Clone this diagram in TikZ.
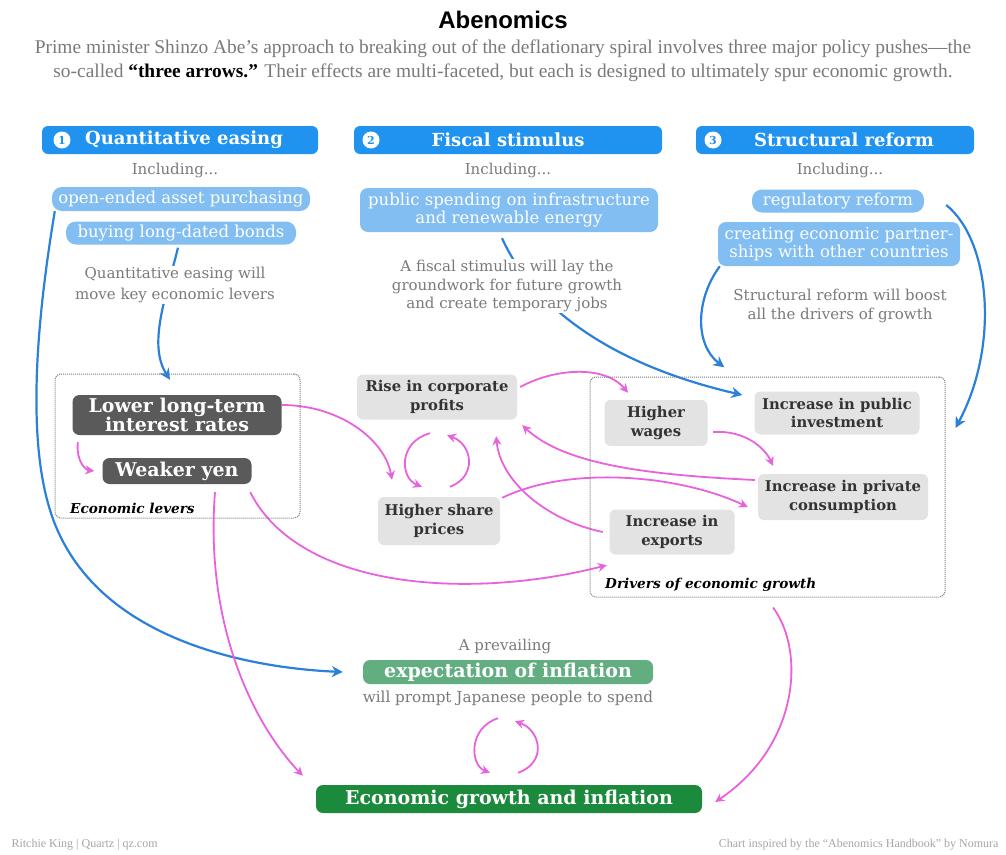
\documentclass[tikz,border=0pt]{standalone}
\usepackage{fontspec}
\setmainfont{DejaVu Serif}
\newfontfamily\titlefont{Liberation Sans}
\newfontfamily\subfont[Ligatures=TeX]{Liberation Serif}
\usetikzlibrary{arrows.meta}
\pgfdeclarelayer{back}
\pgfdeclarelayer{bg}
\pgfsetlayers{back,bg,main}
\definecolor{hdrblue}{HTML}{2093F0}
\definecolor{lblue}{HTML}{82BEF2}
\definecolor{arrblue}{HTML}{2B80DA}
\definecolor{pinkarr}{HTML}{E862DE}
\definecolor{dkgray}{HTML}{5A5A5A}
\definecolor{ltgray}{HTML}{E3E3E3}
\definecolor{txtgray}{HTML}{7A7A7A}
\definecolor{expgreen}{HTML}{62AE80}
\definecolor{grgreen}{HTML}{1C8A3C}
\definecolor{boxline}{HTML}{7A7A7A}
\begin{document}
\begin{tikzpicture}[x=1pt,y=-1pt,
  hdr/.style={fill=hdrblue, rounded corners=6pt, minimum height=28pt, inner sep=0pt, text=white,
     font=\bfseries\fontsize{18}{20}\selectfont},
  num/.style={circle, fill=white, minimum size=17pt, inner sep=0pt, text=hdrblue,
     font=\bfseries\fontsize{11}{11}\selectfont},
  incl/.style={text=txtgray, font=\fontsize{15}{17}\selectfont},
  lb/.style={fill=lblue, rounded corners=10pt, inner sep=0pt, text=white, align=center,
     font=\fontsize{16.5}{18}\selectfont},
  note/.style={fill=white, inner sep=1pt, text=txtgray, align=center},
  dk/.style={fill=dkgray, rounded corners=7pt, inner sep=0pt, text=white, align=center,
     font=\bfseries\fontsize{19}{18}\selectfont},
  lg/.style={fill=ltgray, rounded corners=6pt, inner sep=0pt, text=black!80, align=center,
     font=\bfseries\fontsize{14.8}{18.5}\selectfont},
  group/.style={draw=boxline, densely dotted, line width=1pt, rounded corners=6pt, inner sep=0pt},
  grplabel/.style={anchor=west, inner sep=0pt, font=\bfseries\itshape\fontsize{13.6}{15}\selectfont},
  parr/.style={draw=pinkarr, line width=1.8pt, -{Stealth[length=9pt,width=9pt]}},
  barr/.style={draw=arrblue, line width=2.2pt, -{Stealth[length=11pt,width=11pt]}}
]
\useasboundingbox (0,0) rectangle (1006,854);
\begin{pgfonlayer}{back}
\fill[white] (0,0) rectangle (1006,854);
\end{pgfonlayer}

% title
\node[font=\titlefont\bfseries\fontsize{24}{28}\selectfont] (title) at (503,20) {Abenomics};
\node[font=\subfont\fontsize{19.4}{24}\selectfont, text=txtgray, align=center] (sub) at (503,61)
  {Prime minister Shinzo Abe’s approach to breaking out of the deflationary spiral involves three major policy pushes—the\\
   so-called {\color{black}\textbf{“three arrows.”}} Their effects are multi-faceted, but each is designed to ultimately spur economic growth.};

% headers
\node[hdr, minimum width=276pt] (h1) at (180,140) {\hspace*{8pt}Quantitative easing};
\node[num] (n1) at (62,140) {1};
\node[hdr, minimum width=308pt] (h2) at (508,140) {Fiscal stimulus};
\node[num] (n2) at (371,140) {2};
\node[hdr, minimum width=278pt] (h3) at (835,140) {\hspace*{18pt}Structural reform};
\node[num] (n3) at (713,140) {3};

\node[incl] (i1) at (175,170) {Including...};
\node[incl] (i2) at (508,170) {Including...};
\node[incl] (i3) at (840,170) {Including...};

% policy items
\node[lb, minimum width=258pt, minimum height=24pt] (ob) at (181,199) {open-ended asset purchasing};
\node[lb, minimum width=230pt, minimum height=23pt] (bb) at (181,233) {buying long-dated bonds};
\node[lb, minimum width=298pt, minimum height=44pt, rounded corners=8pt] (ps) at (509,210) {public spending on infrastructure\\and renewable energy};
\node[lb, minimum width=172pt, minimum height=23pt] (reg) at (838,201) {regulatory reform};
\node[lb, minimum width=242pt, minimum height=44pt, rounded corners=8pt] (cp) at (839,244) {creating economic partner-\\ships with other countries};

% notes
\node[note, font=\fontsize{15}{21}\selectfont] (qn) at (175,285) {Quantitative easing will\\move key economic levers};
\node[note, font=\fontsize{15}{18.5}\selectfont] (fn) at (507,286) {A fiscal stimulus will lay the\\groundwork for future growth\\and create temporary jobs};
\node[note, font=\fontsize{15}{18.5}\selectfont] (sn) at (840,306) {Structural reform will boost\\all the drivers of growth};

% groups
\node[group, minimum width=245pt, minimum height=144pt] (levers) at (177.5,446) {};
\node[grplabel] (levlab) at (70,508) {Economic levers};
\node[group, minimum width=355pt, minimum height=220pt] (drivers) at (767.5,487) {};
\node[grplabel] (drvlab) at (605,585) {Drivers of economic growth};

% levers
\node[dk, minimum width=209pt, minimum height=40pt] (lower) at (177,415) {Lower long-term\\interest rates};
\node[dk, minimum width=149pt, minimum height=26pt] (weaker) at (177,471) {Weaker yen};

% middle
\node[lg, minimum width=160pt, minimum height=45pt] (rise) at (437,397) {Rise in corporate\\profits};
\node[lg, minimum width=122pt, minimum height=48pt] (share) at (439,521) {Higher share\\prices};

% drivers
\node[lg, minimum width=103pt, minimum height=46pt] (wages) at (656,423) {Higher\\wages};
\node[lg, minimum width=165pt, minimum height=43pt] (pubinv) at (837,413) {Increase in public\\investment};
\node[lg, minimum width=170pt, minimum height=46pt] (cons) at (843,497) {Increase in private\\consumption};
\node[lg, minimum width=125pt, minimum height=45pt] (exports) at (672,532) {Increase in\\exports};

% expectation & growth
\node[text=txtgray, font=\fontsize{15}{17}\selectfont] (prev) at (505,646) {A prevailing};
\node[fill=expgreen, rounded corners=7pt, minimum width=290pt, minimum height=24pt, inner sep=0pt, text=white,
      font=\bfseries\fontsize{19}{20}\selectfont] (exp) at (508,672) {expectation of inflation};
\node[text=txtgray, font=\fontsize{15.2}{17}\selectfont] (spend) at (508,698) {will prompt Japanese people to spend};
\node[fill=grgreen, rounded corners=7pt, minimum width=386pt, minimum height=28pt, inner sep=0pt, text=white,
      font=\bfseries\fontsize{19}{20}\selectfont] (growth) at (509,799) {Economic growth and inflation};

% footer
\node[anchor=west, text=black!35, font=\subfont\fontsize{12}{13}\selectfont] (f1) at (8,845) {Ritchie King | Quartz | qz.com};
\node[anchor=east, text=black!35, font=\subfont\fontsize{12}{13}\selectfont] (f2) at (1002,845) {Chart inspired by the “Abenomics Handbook” by Nomura};

\begin{pgfonlayer}{bg}
% blue arrows
\draw[barr] ([xshift=3pt]ob.south west) .. controls (35,330) and (28,440) .. (50,510)
   .. controls (90,640) and (250,668) .. ([xshift=-20pt]exp.west);
\draw[barr] ([xshift=-3pt,yshift=-3pt]bb.south) .. controls (165,300) and (148,345) .. ([xshift=-7pt,yshift=15pt]lower.north);
\draw[barr] ([xshift=-7pt,yshift=-6pt]ps.south) .. controls (530,300) and (600,362) .. ([xshift=-12pt,yshift=18pt]pubinv.west);
\draw[barr] ([xshift=2pt]cp.south west) .. controls (695,300) and (695,345) .. ([xshift=-30pt,yshift=24pt]pubinv.north west);
\draw[barr] ([xshift=22pt,yshift=-4pt]reg.east) .. controls (990,240) and (1000,345) .. ([xshift=10pt,yshift=59pt]drivers.east);

% pink arrows
\draw[parr] ([yshift=10pt]lower.east) .. controls (340,405) and (385,440) .. ([xshift=-47pt,yshift=17pt]share.north);
\draw[parr] ([xshift=5.5pt,yshift=-7pt]lower.south west) .. controls (76,462) and (86,470) .. ([xshift=-8pt]weaker.west);
\draw[parr] ([xshift=-7pt,yshift=-13.5pt]rise.south) .. controls (398,442) and (400,478) .. ([xshift=-17pt,yshift=10pt]share.north);
\draw[parr] ([xshift=11pt,yshift=10pt]share.north) .. controls (478,476) and (472,444) .. ([xshift=10pt,yshift=-15.5pt]rise.south);
\draw[parr] ([xshift=3pt,yshift=10pt]rise.east) .. controls (555,368) and (605,365) .. ([xshift=-28pt,yshift=7pt]wages.north);
\draw[parr] ([xshift=5.5pt,yshift=-9pt]wages.east) .. controls (745,430) and (765,448) .. ([xshift=-70pt,yshift=8pt]cons.north);
\draw[parr] ([xshift=-3pt,yshift=17pt]cons.west) .. controls (650,475) and (565,465) .. ([xshift=5pt,yshift=-5.5pt]rise.south east);
\draw[parr] ([xshift=2pt,yshift=-1pt]share.north east) .. controls (570,465) and (680,475) .. ([xshift=-10pt,yshift=-10pt]cons.west);
\draw[parr] ([xshift=-6.5pt]exports.west) .. controls (545,520) and (500,480) .. ([xshift=-21pt,yshift=-16.5pt]rise.south east);
\draw[parr] ([xshift=-1.5pt,yshift=-8pt]weaker.south east) .. controls (300,590) and (470,600) .. ([xshift=-2.5pt,yshift=-10.5pt]exports.south west);
\draw[parr] ([xshift=38pt,yshift=-8pt]weaker.south) .. controls (205,620) and (250,720) .. ([xshift=-13pt,yshift=9pt]growth.north west);
\draw[parr] ([xshift=5.5pt,yshift=-10pt]drivers.south) .. controls (805,650) and (800,745) .. ([xshift=13pt,yshift=-3pt]growth.east);
\draw[parr] ([xshift=-10pt,yshift=-34pt]exp.south) .. controls (468,728) and (470,765) .. ([xshift=-19pt,yshift=12pt]growth.north);
\draw[parr] ([xshift=9pt,yshift=12pt]growth.north) .. controls (548,762) and (540,730) .. ([xshift=7pt,yshift=-37pt]exp.south);
\end{pgfonlayer}
\end{tikzpicture}
\end{document}
